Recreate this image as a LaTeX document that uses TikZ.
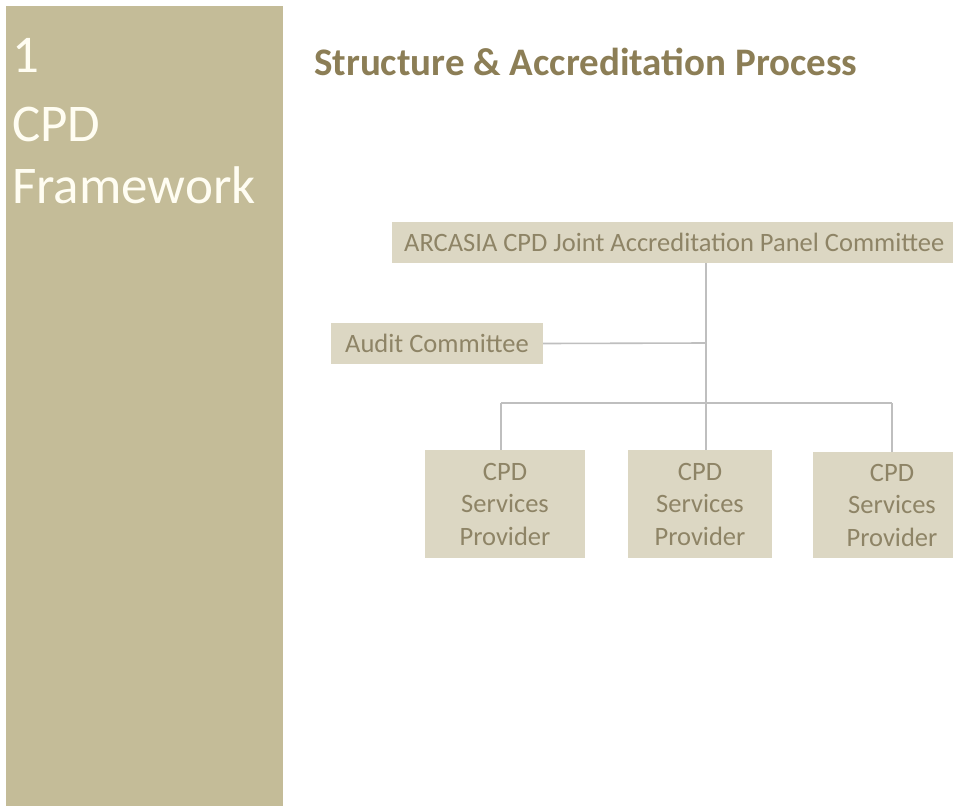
\documentclass[tikz,border=0pt]{standalone}
\usepackage{fontspec}
\setmainfont{Carlito}
\definecolor{panel}{HTML}{C4BC98}
\definecolor{titlec}{HTML}{8C7E56}
\definecolor{boxfill}{HTML}{DCD7C3}
\definecolor{boxtext}{HTML}{8E8466}
\definecolor{linec}{HTML}{BFBFBF}
\definecolor{paneltext}{HTML}{FFFDF2}
\tikzset{
  x=1pt, y=-1pt,
  orgbox/.style={fill=boxfill, draw=none, inner sep=0pt, text=boxtext,
    font=\fontsize{26.5}{32.5}\selectfont},
  conn/.style={draw=linec, line width=1.6pt},
  paneltxt/.style={anchor=base west, inner sep=0pt, text=paneltext,
    font=\fontsize{53}{60}\selectfont}
}
\begin{document}
\begin{tikzpicture}
\clip (0,0) rectangle (953,806);
\fill[white] (0,0) rectangle (953,806);
\fill[panel] (6,6) rectangle (283,806);
\node[paneltxt] (n1) at (12,72) {1};
\node[paneltxt] (ncpd) at (12,141) {CPD};
\node[paneltxt] (nfw) at (12,203) {Framework};
\node[anchor=base west, inner sep=0pt, text=titlec,
  font=\fontsize{39}{40}\selectfont\bfseries] (title) at (314,75)
  {Structure \& Accreditation Process};
% boxes
\node[orgbox, anchor=west, minimum height=41pt, inner xsep=12pt] (top) at (392,242.5)
  {ARCASIA CPD Joint Accreditation Panel Committee};
\node[orgbox, minimum width=212pt, minimum height=41pt] (audit) at (437,343.5)
  {Audit Committee};
\node[orgbox, minimum width=160pt, minimum height=108pt, align=center] (p1) at (505,504)
  {CPD\\Services\\Provider};
\node[orgbox, minimum width=144pt, minimum height=108pt, align=center] (p2) at (700,504)
  {CPD\\Services\\Provider};
\node[orgbox, minimum width=158pt, minimum height=106pt, align=center] (p3) at (892,505)
  {CPD\\Services\\Provider};
% junctions
\coordinate (ja) at (706,343);
\coordinate (jb) at (706,403);
\coordinate (b1) at (501,403);
\coordinate (b3) at (892,403);
\draw[conn] (top.south -| ja) -- (jb);
\draw[conn] (audit.east) -- (ja);
\draw[conn] (b1) -- (b3);
\draw[conn] (b1) -- (b1 |- p1.north);
\draw[conn] (jb) -- (jb |- p2.north);
\draw[conn] (b3) -- (b3 |- p3.north);
\end{tikzpicture}
\end{document}
